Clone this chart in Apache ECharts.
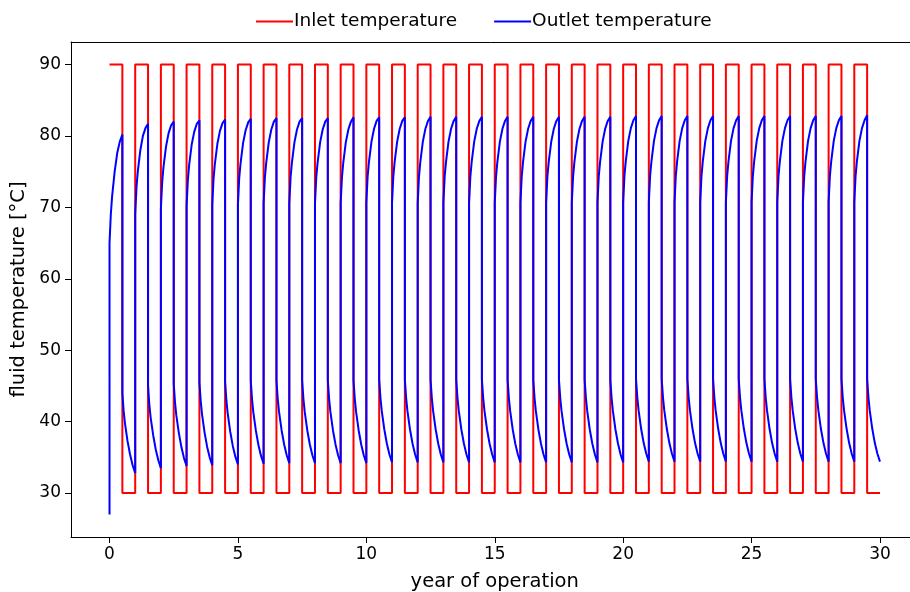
<!DOCTYPE html>
<html>
<head>
<meta charset="utf-8">
<script src="https://cdn.jsdelivr.net/npm/echarts@6/dist/echarts.min.js"></script>
<style>
html,body{margin:0;padding:0;background:#fff;}
#chart{width:910px;height:592px;}
</style>
</head>
<body>
<div id="chart"></div>
<script>
// ---- data ----
// inlet temperature level for each half-year (0-0.5, 0.5-1.0, ...)
var inletLevels = [
  90,30, 90,30, 90,30, 90,30, 90,30, 90,30, 90,30, 90,30, 90,30, 90,30,
  90,30, 90,30, 90,30, 90,30, 90,30, 90,30, 90,30, 90,30, 90,30, 90,30,
  90,30, 90,30, 90,30, 90,30, 90,30, 90,30, 90,30, 90,30, 90,30, 90,30
];
// sample positions inside each half-year (years after the phase start)
var phaseOffsets = [0, 0.05, 0.1, 0.2, 0.3, 0.4, 0.5];
// outlet temperature at t = 0 before the first heating phase
var outletInitial = 27.0;
// outlet temperature during the heating half of each year
var outletHeating = [
  [65.0, 69.0, 71.5, 75.0, 77.6, 79.2, 80.2],
  [69.0, 72.8, 75.0, 78.0, 80.0, 81.1, 81.7],
  [69.8, 73.5, 75.6, 78.5, 80.4, 81.5, 82.0],
  [70.1, 73.8, 75.9, 78.8, 80.6, 81.7, 82.2],
  [70.3, 74.0, 76.0, 78.9, 80.7, 81.8, 82.3],
  [70.4, 74.1, 76.1, 79.0, 80.8, 81.9, 82.4],
  [70.5, 74.2, 76.2, 79.1, 80.9, 82.0, 82.5],
  [70.5, 74.2, 76.2, 79.1, 80.9, 82.0, 82.5],
  [70.5, 74.2, 76.2, 79.1, 80.9, 82.0, 82.5],
  [70.5, 74.2, 76.2, 79.1, 80.9, 82.0, 82.6],
  [70.6, 74.3, 76.3, 79.2, 81.0, 82.1, 82.6],
  [70.6, 74.3, 76.3, 79.2, 81.0, 82.1, 82.6],
  [70.6, 74.3, 76.3, 79.2, 81.0, 82.1, 82.7],
  [70.6, 74.3, 76.3, 79.2, 81.0, 82.1, 82.7],
  [70.6, 74.3, 76.3, 79.2, 81.0, 82.1, 82.7],
  [70.6, 74.3, 76.3, 79.2, 81.0, 82.1, 82.7],
  [70.6, 74.3, 76.3, 79.2, 81.0, 82.1, 82.7],
  [70.6, 74.3, 76.3, 79.2, 81.0, 82.1, 82.7],
  [70.6, 74.3, 76.3, 79.2, 81.0, 82.1, 82.7],
  [70.6, 74.3, 76.3, 79.2, 81.0, 82.1, 82.7],
  [70.7, 74.4, 76.4, 79.3, 81.1, 82.2, 82.8],
  [70.7, 74.4, 76.4, 79.3, 81.1, 82.2, 82.8],
  [70.7, 74.4, 76.4, 79.3, 81.1, 82.2, 82.8],
  [70.7, 74.4, 76.4, 79.3, 81.1, 82.2, 82.8],
  [70.7, 74.4, 76.4, 79.3, 81.1, 82.2, 82.8],
  [70.7, 74.4, 76.4, 79.3, 81.1, 82.2, 82.8],
  [70.7, 74.4, 76.4, 79.3, 81.1, 82.2, 82.8],
  [70.7, 74.4, 76.4, 79.3, 81.1, 82.2, 82.8],
  [70.7, 74.4, 76.4, 79.3, 81.1, 82.2, 82.8],
  [70.7, 74.4, 76.4, 79.3, 81.1, 82.2, 82.9]
];
// outlet temperature during the cooling half of each year
var outletCooling = [
  [44.0, 41.5, 39.8, 37.3, 35.4, 33.9, 32.8],
  [45.0, 42.4, 40.6, 38.1, 36.1, 34.6, 33.5],
  [45.3, 42.7, 40.9, 38.4, 36.4, 34.9, 33.8],
  [45.5, 42.9, 41.1, 38.5, 36.5, 35.0, 33.9],
  [45.6, 43.0, 41.2, 38.6, 36.6, 35.1, 34.0],
  [45.7, 43.1, 41.3, 38.7, 36.7, 35.2, 34.1],
  [45.8, 43.2, 41.4, 38.8, 36.8, 35.3, 34.2],
  [45.8, 43.2, 41.4, 38.8, 36.8, 35.3, 34.2],
  [45.8, 43.2, 41.4, 38.8, 36.8, 35.3, 34.2],
  [45.8, 43.2, 41.4, 38.8, 36.8, 35.3, 34.2],
  [45.9, 43.3, 41.5, 38.9, 36.9, 35.4, 34.3],
  [45.9, 43.3, 41.5, 38.9, 36.9, 35.4, 34.3],
  [45.9, 43.3, 41.5, 38.9, 36.9, 35.4, 34.3],
  [45.9, 43.3, 41.5, 38.9, 36.9, 35.4, 34.3],
  [45.9, 43.3, 41.5, 38.9, 36.9, 35.4, 34.3],
  [45.9, 43.3, 41.5, 38.9, 36.9, 35.4, 34.3],
  [45.9, 43.3, 41.5, 38.9, 36.9, 35.4, 34.3],
  [45.9, 43.3, 41.5, 38.9, 36.9, 35.4, 34.3],
  [45.9, 43.3, 41.5, 38.9, 36.9, 35.4, 34.3],
  [45.9, 43.3, 41.5, 38.9, 36.9, 35.4, 34.3],
  [46.0, 43.4, 41.6, 39.0, 37.0, 35.5, 34.4],
  [46.0, 43.4, 41.6, 39.0, 37.0, 35.5, 34.4],
  [46.0, 43.4, 41.6, 39.0, 37.0, 35.5, 34.4],
  [46.0, 43.4, 41.6, 39.0, 37.0, 35.5, 34.4],
  [46.0, 43.4, 41.6, 39.0, 37.0, 35.5, 34.4],
  [46.0, 43.4, 41.6, 39.0, 37.0, 35.5, 34.4],
  [46.0, 43.4, 41.6, 39.0, 37.0, 35.5, 34.4],
  [46.0, 43.4, 41.6, 39.0, 37.0, 35.5, 34.4],
  [46.0, 43.4, 41.6, 39.0, 37.0, 35.5, 34.4],
  [46.0, 43.4, 41.6, 39.0, 37.0, 35.5, 34.4]
];
var xTicks = [0, 5, 10, 15, 20, 25, 30];
var yTicks = [30, 40, 50, 60, 70, 80, 90];
var seriesNames = ['Inlet temperature', 'Outlet temperature'];

// ---- build series points ----
var inletData = [];
for (var i = 0; i < inletLevels.length; i++) {
  inletData.push([i * 0.5, inletLevels[i]]);
  inletData.push([(i + 1) * 0.5, inletLevels[i]]);
}
var outletData = [[0, outletInitial]];
for (var c = 0; c < outletHeating.length; c++) {
  for (var k = 0; k < phaseOffsets.length; k++) {
    outletData.push([c + phaseOffsets[k], outletHeating[c][k]]);
  }
  for (var k2 = 0; k2 < phaseOffsets.length; k2++) {
    outletData.push([c + 0.5 + phaseOffsets[k2], outletCooling[c][k2]]);
  }
}

var font = 'DejaVu Sans';
var chart = echarts.init(document.getElementById('chart'), null, {renderer: 'canvas'});
chart.setOption({
  animation: false,
  backgroundColor: '#ffffff',
  textStyle: {fontFamily: font},
  legend: {
    top: 7,
    left: 251,
    icon: 'rect',
    itemWidth: 37,
    itemHeight: 2,
    itemGap: 37,
    textStyle: {fontFamily: font, fontSize: 18.5, color: '#000', padding: [0,0,0,-4]},
    data: seriesNames
  },
  grid: {
    left: 71, top: 42, width: 847.5, height: 495,
    show: false,
    outerBoundsMode: 'none',
    containLabel: false
  },
  xAxis: [{
    type: 'value', min: -1.5, max: 31.5,
    name: 'year of operation', nameLocation: 'middle', nameGap: 35,
    nameTextStyle: {fontFamily: font, fontSize: 19.5, color: '#000'},
    axisLine: {show: true, onZero: false, lineStyle: {color: '#000', width: 1}},
    axisTick: {show: true, length: 6, lineStyle: {color: '#000'}, customValues: xTicks},
    axisLabel: {fontFamily: font, fontSize: 17, color: '#000', margin: 9, customValues: xTicks},
    splitLine: {show: false}
  }, {
    type: 'value', position: 'top', min: -1.5, max: 31.5,
    axisLine: {show: true, onZero: false, lineStyle: {color: '#000', width: 1}},
    axisTick: {show: false}, axisLabel: {show: false}, splitLine: {show: false}
  }],
  yAxis: {
    type: 'value', min: 23.85, max: 93.15,
    name: 'fluid temperature [°C]', nameLocation: 'middle', nameGap: 39,
    nameTextStyle: {fontFamily: font, fontSize: 19.5, color: '#000'},
    axisLine: {show: true, onZero: false, lineStyle: {color: '#000', width: 1}},
    axisTick: {show: true, length: 6, lineStyle: {color: '#000'}, customValues: yTicks},
    axisLabel: {fontFamily: font, fontSize: 17, color: '#000', margin: 10, customValues: yTicks},
    splitLine: {show: false}
  },
  series: [
    {
      name: seriesNames[0], type: 'line', data: inletData,
      showSymbol: false, symbol: 'none',
      lineStyle: {color: '#ff0000', width: 2},
      itemStyle: {color: '#ff0000'}
    },
    {
      name: seriesNames[1], type: 'line', data: outletData,
      showSymbol: false, symbol: 'none',
      lineStyle: {color: '#0000ff', width: 2},
      itemStyle: {color: '#0000ff'}
    }
  ]
});
</script>
</body>
</html>
